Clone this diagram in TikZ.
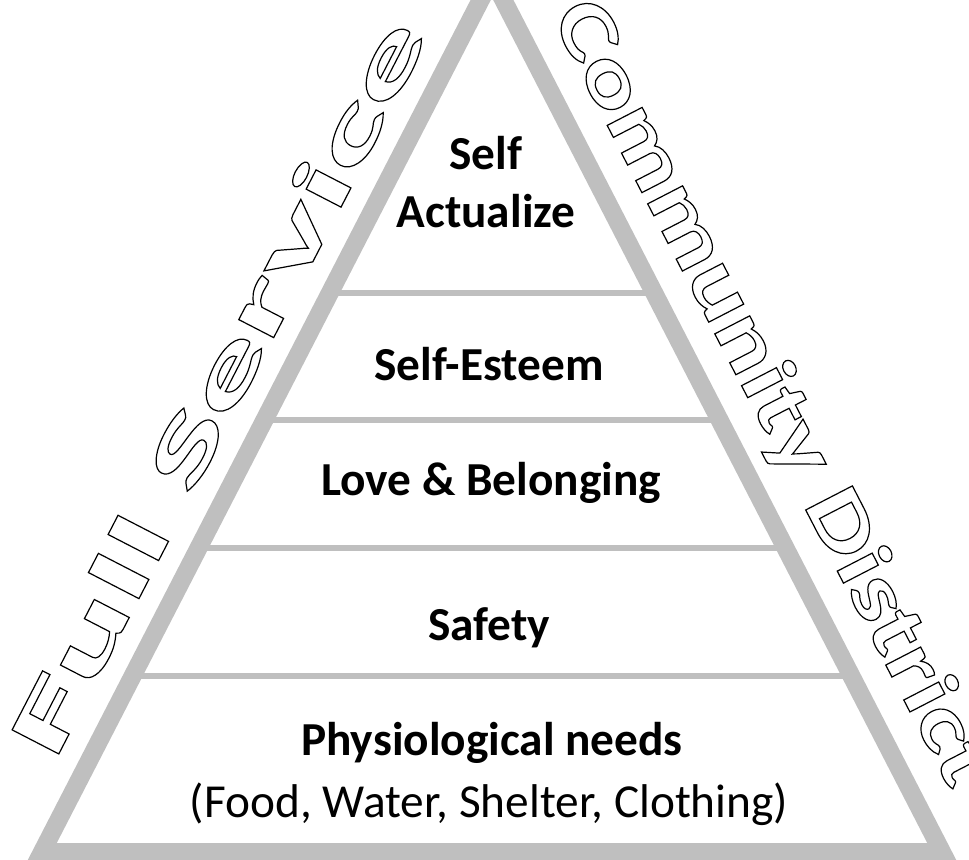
\documentclass[tikz,border=0pt]{standalone}
\usepackage{fontspec}
\setmainfont{Carlito}
\newfontfamily\artleft[FakeStretch=2.15]{Carlito}
\newfontfamily\artright[FakeStretch=1.34]{Carlito}
% stroke-only glyphs (text rendering mode 1)
\newcommand{\hollow}[1]{\special{pdf:literal direct 1 Tr 0.9 w}#1\special{pdf:literal direct 0 Tr}}
\definecolor{rimgray}{RGB}{191,191,191}

\begin{document}
\begin{tikzpicture}[x=0.75pt,y=-0.75pt,
  divider/.style={draw=rimgray,line width=3.8pt},
  tier/.style={font=\fontsize{35.5}{43}\selectfont\bfseries,anchor=base,inner sep=0pt},
  note/.style={font=\fontsize{35.5}{43}\selectfont,anchor=base,inner sep=0pt},
  wordart/.style={font=\fontsize{60.75}{70}\selectfont\bfseries,anchor=base,inner sep=0pt}]
\useasboundingbox (0,0) rectangle (969,859);

% corners of the pyramid
\coordinate (apex) at (492,-22);
\coordinate (baseL) at (42,852);
\coordinate (baseR) at (942,852);

% level dividers
\foreach \y in {293,420,548,676}
  \draw[divider] ({492-0.5149*(\y+22)},\y) -- ({492+0.5149*(\y+22)},\y);

\draw[draw=rimgray,line width=13.5pt,line join=miter] (apex) -- (baseL) -- (baseR) -- cycle;

\node[tier] (self) at (486,170) {Self};
\node[tier] (actualize) at (486,228) {Actualize};
\node[tier] (esteem) at (489,380) {Self-Esteem};
\node[tier] (love) at (491,495) {Love \& Belonging};
\node[tier] (safety) at (489,640) {Safety};
\node[tier] (physio) at (492,755) {Physiological needs};
\node[note] (basics) at (489,817) {(Food, Water, Shelter, Clothing)};

% outlined side titles
\node[wordart,rotate=62.7] (full) at (242,399) {\artleft\hollow{Full Service}};
\node[wordart,rotate=-62.7] (district) at (751,404) {\artright\hollow{Community District}};
\end{tikzpicture}
\end{document}
